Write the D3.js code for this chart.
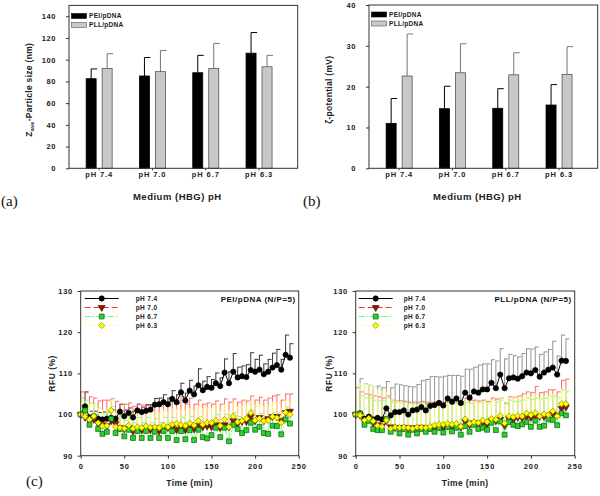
<!DOCTYPE html>
<html><head><meta charset="utf-8">
<script src="https://cdn.jsdelivr.net/npm/d3@7/dist/d3.min.js"></script>
<style>
body{margin:0;background:#fff;}
svg{display:block;font-family:"Liberation Sans",Arial,sans-serif;}
.tick text{font-weight:bold;}
</style></head><body>
<svg id="chart" width="600" height="496"></svg>
<script>
// ---------- Data ----------
const categories = ["pH 7.4","pH 7.0","pH 6.7","pH 6.3"];
const seriesNames = ["PEI/pDNA","PLL/pDNA"];
const sizePEI = [82.5,85,88,106];
const sizePEIErr = [9,17,16,19];
const sizePLL = [92,89,92,93.5];
const sizePLLErr = [13.5,19.5,23,10.5];
const zetaPEI = [11,14.6,14.7,15.5];
const zetaPEIErr = [6.1,5.5,4.8,5.0];
const zetaPLL = [22.6,23.4,22.9,23.0];
const zetaPLLErr = [10.3,7.1,5.4,6.8];
const sizeTicks = [0,20,40,60,80,100,120,140];
const zetaTicks = [0,10,20,30,40];

const timeMin = [0,5,10,15,20,25,30,35,40,45,50,55,60,65,70,75,80,85,90,95,100,105,110,115,120,125,130,135,140,145,150,155,160,165,170,175,180,185,190,195,200,205,210,215,220,225,230,235,240];
const timeTicks = [0,50,100,150,200,250];
const rfuTicks = [90,100,110,120,130];
const phNames = ["pH 7.4","pH 7.0","pH 6.7","pH 6.3"];

// PEI/pDNA: mean RFU and top of error bar
const pei74 = [100,102,99.3,99.6,99,98.8,99,99.2,99,100.7,99.6,100.4,99.3,101,100.6,100.9,101.2,102.4,102.5,103,102.5,103.8,103,105.4,103.4,105.8,104.9,107.1,105.9,106.7,106.5,107.6,106.9,110.2,107.6,110.4,109,109.3,109.1,110.8,110.4,110.9,109.8,110.4,111.4,112,110.9,114.5,113.8];
const pei74Top = [100,105.5,100.8,100.8,100.5,100.6,100.5,101.2,100.5,102.5,101.1,101.6,100.8,102.5,101.8,102.4,102.4,103.9,104,104.8,104,105.8,104.8,107.6,105.2,108.3,106.9,111.1,108.1,109.2,108.5,110.1,108.9,113.5,110.4,114.8,111.5,111.8,112.1,115,113.4,114.4,112.3,113.4,114.9,115.8,113.4,119.3,117.2];
const pei70 = [100,99.3,98.5,98.8,97.8,97.5,97.3,98.5,97.8,96.8,96.5,96.8,96,96.3,96.2,96.5,96.3,96.8,96,96.5,96.8,96.8,96.3,97,96.3,97.2,96.5,97.3,97,97.2,97,97.5,96.8,97.5,97,98.5,97.8,98.3,98.3,99.5,98.5,99.3,98.5,99,99.5,99.5,98.5,100.5,100.8];
const pei70Top = [105.5,105.3,104.3,104,103.3,103.5,103.5,103.8,103.2,102.5,102.5,102.8,102,102.5,102.3,102.2,102,102.5,102,102.5,103,103.5,102.7,104.3,102.5,104,102.5,103.5,102.5,102.8,102.5,103.3,102.5,103.8,103,103.8,103,103.5,103.3,104.5,103.5,104.2,103.5,104,104.5,104.8,103.5,105,105];
const pei67 = [100,101,97.5,99.5,96.5,95.3,95.8,99,95.5,96.5,94.7,96.3,94.3,96,94.3,96,94.3,95.8,94.3,96,94.3,96,93.8,96,94,96.2,93.8,96.3,94.5,94.2,95,96.8,94.5,96.8,93.5,97.5,96.5,95.5,96.2,98,96.3,97,95.5,95.3,97.3,97.2,95.2,98.8,97.8];
const pei67Top = [104,103.5,102.8,102.5,101.5,100,100.5,102,99.5,99.8,98.5,99.5,98,99.3,98,99.3,98,99,98,99.3,98,99.3,97.5,99.3,97.8,99.5,97.5,99.5,98,97.8,98.5,100,98,100,97,100.5,99.5,99,99.5,101,99.5,100.3,99,98.8,100.5,100.5,98.8,101.8,101];
const pei63 = [100,99.5,98.8,99.6,98,97.2,97.3,101,97,96.8,96.6,97.4,96.6,97,96.8,97.2,96.9,97,96.8,97.4,97,97.6,97.8,97.5,97.3,97.9,97.4,98.5,97.6,98,98,98.6,97.3,98.8,97,99.6,98.2,98.5,99,100.4,98.6,99,98.4,98.6,99.5,99.2,98,100.5,100];
const pei63Top = [103.5,103,102.5,102.5,101.5,101,101,103.5,100.5,100.5,100.3,101,100.2,100.5,100.3,100.8,100.5,100.6,100.4,101,100.6,101.2,101.3,101,100.9,101.5,101,102,101.2,101.6,101.6,102.2,101,102.4,100.8,103,101.8,102,102.5,103.5,102.2,102.5,102,102.2,103,102.8,101.6,103.5,103];

// PLL/pDNA
const pll74 = [100,100.3,99,99.5,98.8,99.2,98.8,101.5,99.8,100.6,100.6,101,100,101,101.2,101.8,101,102.1,102.3,102.8,102.2,103.9,103.1,103.9,102.8,105.3,104.1,105.6,105.3,106.1,106.1,107.7,106.4,109.7,106.4,108.8,109,108.7,109.3,110.2,110,110.8,109.2,110.2,110.9,111.4,109.7,113.1,113];
const pll74Top = [106.5,108.7,107.4,107.1,106.8,106.9,106.5,108,106.5,107.4,107.2,107,106.8,106.7,107.3,108.2,108.5,109.2,109.2,109.1,109.3,109.5,109.5,109.5,109.3,111,111,111.5,112,112.3,112.3,113.3,113,116,113.5,114.6,114.3,114,114.8,116,115.9,116.4,114.6,115.2,115.8,117.8,114.2,119.3,118.4];
const pll70 = [100,99.8,98.2,98.8,98,97.5,97.2,98.5,97,96.8,96.8,96.9,96.6,96.8,96.7,96.9,96.6,96.8,96.6,97,96.8,97.2,97,97.1,96.9,98.3,97.5,98,97.8,98,97.6,98.6,98.5,98.8,97.3,99,98.8,99.3,99.2,99.5,99.3,99.5,99.5,99.5,99.8,100.2,99.8,101.5,101.8];
const pll70Top = [100,105.5,105,104.8,104.5,104.3,104,104.5,103.5,103.3,103.3,103.2,103,103,103,103.2,103,103,103,103.2,103,103.3,103.2,103.3,103.2,104,103.5,103.5,103.3,103.5,103.2,104,103.8,104,102.8,104.3,104.2,104.5,105,105.5,105.3,106.8,105.3,105.5,106,106,105.5,108.3,108.6];
const pll67 = [100,100.2,97.5,98.5,96.5,96.2,96.2,98.9,95.8,96.8,95.4,96.5,95.1,96.3,95.4,96.5,95.8,96.5,95.8,96.8,95.6,97,95.9,96.8,95.1,97.2,95.8,97.5,96.5,96.8,96.3,98,96.2,98.3,95.1,98.2,97.5,97.2,97.6,98.2,97,98.5,97,97.3,98.8,98.7,97.4,100.3,99.8];
const pll67Top = [100,104.5,104,104,103.5,103.3,103.3,104,103,103,102.8,103,102.6,102.8,102.6,102.8,102.6,102.7,102.5,102.8,102.6,102.9,102.7,102.8,102.4,103,102.7,103,102.8,103,102.8,103.5,103,103.5,102.5,103.5,103.2,103.3,103.5,104,103.6,104,103.8,104,104.5,104.5,104,106,105.5];
const pll63 = [100,99.8,98.6,99.1,98.4,97.3,97.1,98.6,96.6,96.9,96.8,96.9,96.8,96.6,96.9,96.9,96.8,97.1,97.4,97.6,97.6,97.8,97.6,97.8,97.1,98.9,97.8,98.2,98,98.6,98.2,99,98.8,99.7,97.9,99.6,99.4,99.7,99.6,100.3,99.9,100.4,99.6,100.1,99.9,100.8,99.6,102.6,102.6];
const pll63Top = [107.3,107.5,107.3,107,106.8,106,105.5,105.5,103.5,103.2,103,102.8,102.5,102.3,102.3,102.2,102.2,102.3,102.5,102.5,102.5,102.6,102.4,102.6,102,103.5,102.5,103,102.8,103.2,102.8,103.5,103.3,104,102.5,104,104,104.2,104,104.8,104.3,105,104,104.5,104.5,105,104,106,106];

// ---------- Drawing ----------
const svg = d3.select("#chart");
const AX = "#333";

function styleAxis(g, fs, ls) {
  g.select(".domain").remove();
  g.selectAll(".tick line").attr("stroke", AX);
  g.selectAll(".tick text").attr("font-size", fs).attr("letter-spacing", ls).attr("fill", "#222");
}

function barPanel(o) {
  const g = svg.append("g");
  const y = d3.scaleLinear().domain([0, o.yMax]).range([o.bottom, o.top]);
  const x0 = d3.scaleBand().domain(categories).range([o.left + 3.5, o.left + 3.5 + 4 * 53.3]);
  const x1 = d3.scaleBand().domain(seriesNames).range([-13, 13]).paddingInner(0.375);
  const gy = g.append("g").attr("transform", `translate(${o.left},0)`)
    .call(d3.axisLeft(y).tickValues(o.ticks).tickSize(3).tickPadding(10).tickFormat(d3.format("d")));
  styleAxis(gy, 7.5, 0.6);
  const gx = g.append("g").attr("transform", `translate(0,${o.bottom})`)
    .call(d3.axisBottom(x0).tickSize(2).tickPadding(1.5));
  styleAxis(gx, 7.5, 0.9);
  const series = [
    {name: seriesNames[0], mean: o.pei, err: o.peiErr, fill: "#000", stroke: "#000", ec: "#000"},
    {name: seriesNames[1], mean: o.pll, err: o.pllErr, fill: "#c8c8c8", stroke: "#555", ec: "#777"}
  ];
  series.forEach(s => {
    categories.forEach((c, i) => {
      const xl = x0(c) + x0.bandwidth() / 2 + x1(s.name);
      const xc = xl + x1.bandwidth() / 2;
      g.append("line").attr("x1", xc).attr("x2", xc)
        .attr("y1", y(s.mean[i])).attr("y2", y(s.mean[i] + s.err[i])).attr("stroke", s.ec).attr("stroke-width", 1);
      g.append("line").attr("x1", xc).attr("x2", xc + 6)
        .attr("y1", y(s.mean[i] + s.err[i])).attr("y2", y(s.mean[i] + s.err[i])).attr("stroke", s.ec).attr("stroke-width", 1);
      g.append("rect").attr("x", xl).attr("y", y(s.mean[i]))
        .attr("width", x1.bandwidth()).attr("height", y(0) - y(s.mean[i]))
        .attr("fill", s.fill).attr("stroke", s.stroke).attr("stroke-width", 0.8);
    });
  });
  g.append("rect").attr("x", o.left).attr("y", o.top).attr("width", o.right - o.left)
    .attr("height", o.bottom - o.top).attr("fill", "none").attr("stroke", AX).attr("stroke-width", 1);
  // legend
  series.forEach((s, i) => {
    const ly = o.legY + i * 9;
    g.append("rect").attr("x", o.left + 2.5).attr("y", ly - 2.5).attr("width", 15).attr("height", 5)
      .attr("fill", s.fill).attr("stroke", s.stroke).attr("stroke-width", 0.6);
    g.append("text").attr("x", o.left + 20).attr("y", ly + 2.3).attr("font-size", 6.5)
      .attr("font-weight", "bold").attr("fill", "#222").attr("letter-spacing", 0.3).text(s.name);
  });
  // titles
  g.append("text").attr("x", (o.left + o.right) / 2 - 6).attr("y", 200).attr("text-anchor", "middle")
    .attr("font-size", 9.5).attr("font-weight", "bold").attr("letter-spacing", 0.5).attr("fill", "#222")
    .text("Medium (HBG) pH");
  const yt = g.append("text").attr("transform", `translate(${o.yTitleX},${(o.top + o.bottom) / 2 + 3}) rotate(-90)`)
    .attr("text-anchor", "middle").attr("font-size", 8.5).attr("font-weight", "bold")
    .attr("letter-spacing", 0.3).attr("fill", "#222");
  o.yTitle(yt);
  svg.append("text").attr("x", o.tagX).attr("y", 206).attr("font-family", "'Liberation Serif',serif")
    .attr("font-size", 15).attr("fill", "#111").text(o.tag);
}

barPanel({left: 69, right: 297.7, top: 5.4, bottom: 168.3, yMax: 150, ticks: sizeTicks,
  pei: sizePEI, peiErr: sizePEIErr, pll: sizePLL, pllErr: sizePLLErr, legY: 16, yTitleX: 32,
  tag: "(a)", tagX: 1,
  yTitle: t => { t.append("tspan").text("Z"); t.append("tspan").attr("font-size", 5.5).attr("dy", 2).text("ave");
                 t.append("tspan").attr("dy", -2).text("-Particle size (nm)"); }});
barPanel({left: 369, right: 597.7, top: 5, bottom: 168.3, yMax: 40, ticks: zetaTicks,
  pei: zetaPEI, peiErr: zetaPEIErr, pll: zetaPLL, pllErr: zetaPLLErr, legY: 14.5, yTitleX: 332,
  tag: "(b)", tagX: 303,
  yTitle: t => { t.text("\u03B6-potential (mV)"); }});

function timePanel(o) {
  const g = svg.append("g");
  const x = d3.scaleLinear().domain([0, 250]).range([o.left, o.right]);
  const y = d3.scaleLinear().domain([90, 130]).range([o.bottom, o.top]);
  const gy = g.append("g").attr("transform", `translate(${o.left},0)`)
    .call(d3.axisLeft(y).tickValues(rfuTicks).tickSize(3).tickPadding(5));
  styleAxis(gy, 7.5, 0.6);
  const gx = g.append("g").attr("transform", `translate(0,${o.bottom})`)
    .call(d3.axisBottom(x).tickValues(timeTicks).tickSize(3).tickPadding(5));
  styleAxis(gx, 7.5, 0.9);
  const sym = {
    circle: d3.symbol().type(d3.symbolCircle).size(22),
    tri: d3.symbol().type(d3.symbolTriangle).size(20),
    square: d3.symbol().type(d3.symbolSquare).size(24),
    diamond: d3.symbol().type(d3.symbolSquare).size(19)
  };
  const rot = {circle: "", tri: " rotate(180)", square: "", diamond: " rotate(45)"};
  const series = o.series;
  // error bars
  series.forEach(s => {
    timeMin.forEach((t, i) => {
      if (s.top[i] <= s.mean[i]) return;
      g.append("line").attr("x1", x(t)).attr("x2", x(t)).attr("y1", y(s.mean[i])).attr("y2", y(s.top[i]))
        .attr("stroke", s.ec).attr("stroke-width", 0.9);
      g.append("line").attr("x1", x(t) - 0.5).attr("x2", x(t) + 3.5).attr("y1", y(s.top[i])).attr("y2", y(s.top[i]))
        .attr("stroke", s.ec).attr("stroke-width", 0.9);
    });
  });
  const line = d3.line().x((d, i) => x(timeMin[i])).y(d => y(d));
  series.forEach(s => {
    g.append("path").attr("d", line(s.mean)).attr("fill", "none").attr("stroke", s.lc)
      .attr("stroke-width", 1).attr("stroke-dasharray", s.dash);
  });
  series.forEach(s => {
    s.mean.forEach((v, i) => {
      g.append("path").attr("d", sym[s.shape]()).attr("transform",
        `translate(${x(timeMin[i])},${y(v)})${rot[s.shape]}`)
        .attr("fill", s.fill).attr("stroke", s.stroke).attr("stroke-width", 0.7);
    });
  });
  g.append("rect").attr("x", o.left).attr("y", o.top).attr("width", o.right - o.left)
    .attr("height", o.bottom - o.top).attr("fill", "none").attr("stroke", AX).attr("stroke-width", 1);
  // legend
  series.forEach((s, i) => {
    const ly = 298.5 + i * 9;
    g.append("line").attr("x1", o.left + o.legL0).attr("x2", o.left + o.legL1).attr("y1", ly).attr("y2", ly)
      .attr("stroke", s.lc).attr("stroke-width", 1).attr("stroke-dasharray", s.dash);
    g.append("path").attr("d", sym[s.shape]()).attr("transform",
      `translate(${o.left + (o.legL0 + o.legL1) / 2},${ly})${rot[s.shape]}`)
      .attr("fill", s.fill).attr("stroke", s.stroke).attr("stroke-width", 0.7);
    g.append("text").attr("x", o.left + o.legT).attr("y", ly + 2.3).attr("font-size", 6.5)
      .attr("font-weight", "bold").attr("letter-spacing", 0.4).attr("fill", "#222").text(phNames[i]);
  });
  g.append("text").attr("x", o.right - 3).attr("y", 302).attr("text-anchor", "end")
    .attr("font-size", 8).attr("font-weight", "bold").attr("letter-spacing", 0.5).attr("fill", "#111").text(o.title);
  g.append("text").attr("x", (o.left + o.right) / 2 - 0).attr("y", 486).attr("text-anchor", "middle")
    .attr("font-size", 8.5).attr("font-weight", "bold").attr("letter-spacing", 0.4).attr("fill", "#222").text("Time (min)");
  g.append("text").attr("transform", `translate(${o.yTitleX},${(o.top + o.bottom) / 2}) rotate(-90)`)
    .attr("text-anchor", "middle").attr("font-size", 8.5).attr("font-weight", "bold")
    .attr("letter-spacing", 0.5).attr("fill", "#222").text("RFU (%)");
}

const styles = [
  {shape: "circle", fill: "#000", stroke: "#000", lc: "#000", dash: null},
  {shape: "tri", fill: "#8b1a00", stroke: "#5a0a00", lc: "#ff3030", dash: "6,3"},
  {shape: "square", fill: "#33cc33", stroke: "#006600", lc: "#66ff66", dash: "6,2,1.5,2"},
  {shape: "diamond", fill: "#ffff00", stroke: "#8a8a00", lc: "#ffff66", dash: "1.5,1.5"}
];

timePanel({left: 80.7, right: 298.7, top: 291, bottom: 455.7, yTitleX: 55,
  legL0: 4, legL1: 38, legT: 55, title: "PEI/pDNA (N/P=5)",
  series: [
    Object.assign({mean: pei74, top: pei74Top, ec: "#222"}, styles[0]),
    Object.assign({mean: pei70, top: pei70Top, ec: "#ff5a5a"}, styles[1]),
    Object.assign({mean: pei67, top: pei67Top, ec: "#70ff70"}, styles[2]),
    Object.assign({mean: pei63, top: pei63Top, ec: "#ffff80"}, styles[3])
  ]});
timePanel({left: 355.7, right: 574.7, top: 291, bottom: 455.7, yTitleX: 332,
  legL0: 3, legL1: 37, legT: 48, title: "PLL/pDNA (N/P=5)",
  series: [
    Object.assign({mean: pll74, top: pll74Top, ec: "#888"}, styles[0]),
    Object.assign({mean: pll70, top: pll70Top, ec: "#ff5a5a"}, styles[1]),
    Object.assign({mean: pll67, top: pll67Top, ec: "#70ff70"}, styles[2]),
    Object.assign({mean: pll63, top: pll63Top, ec: "#ffff80"}, styles[3])
  ]});

svg.append("text").attr("x", 26).attr("y", 486).attr("font-family", "'Liberation Serif',serif")
  .attr("font-size", 15).attr("fill", "#111").text("(c)");
</script>
</body></html>
